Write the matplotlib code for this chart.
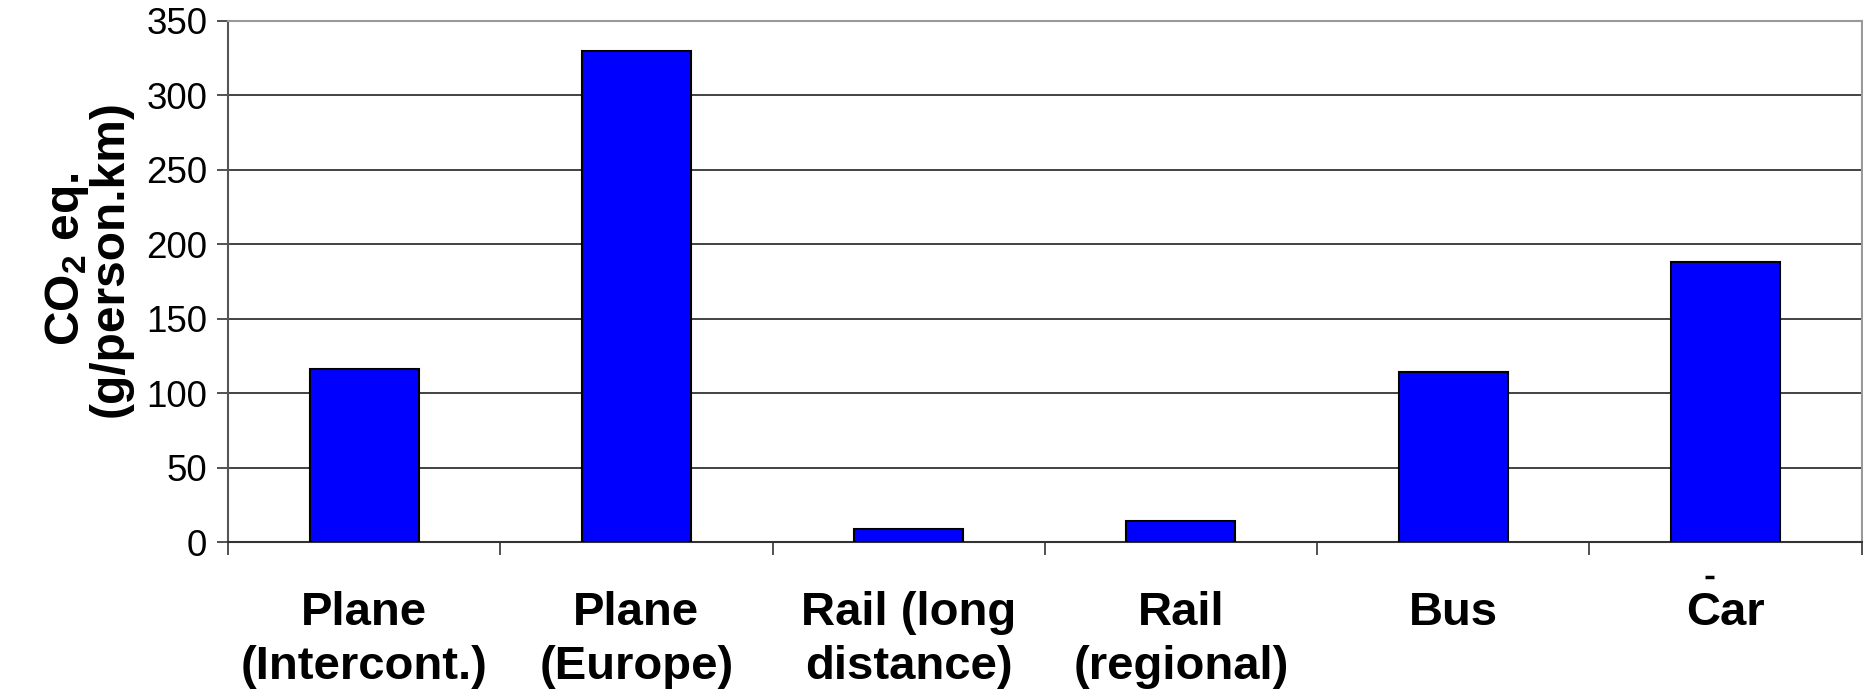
import numpy as np
import matplotlib
matplotlib.use('Agg')
import matplotlib.pyplot as plt

# ── Data ───────────────────────────────────────────────────────────────────────

modes = ['Plane\n(Intercont.)', 'Plane\n(Europe)', 'Rail (long\ndistance)',
         'Rail\n(regional)', 'Bus', 'Car']
co2 = [116, 330, 9, 14, 114, 188]
y_ticks = [0, 50, 100, 150, 200, 250, 300, 350]

# ── Style ──────────────────────────────────────────────────────────────────────

plt.rcParams.update({
    'font.family': ['Liberation Sans', 'DejaVu Sans'],
    'mathtext.fontset': 'custom',
    'mathtext.rm': 'Liberation Sans',
    'mathtext.bf': 'Liberation Sans:bold',
})

fig = plt.figure(figsize=(18.63, 6.99), dpi=100)
ax = fig.add_axes([228 / 1863, 1 - 542 / 699, 1 - 228 / 1863 - 0.0008, (542 - 21) / 699])

x = np.arange(len(modes))
ax.bar(x, co2, width=0.4, color='#0000FF', edgecolor='black', linewidth=1.5, zorder=3)

ax.set_xlim(-0.5, len(modes) - 0.5)
ax.set_ylim(0, 350)
ax.set_yticks(y_ticks)
ax.set_yticklabels([str(v) for v in y_ticks], fontsize=26.5)
ax.tick_params(axis='y', length=8, width=1.2, color='#333333', pad=7)

# category labels at centres, tick marks at category boundaries
ax.set_xticks(x)
ax.set_xticklabels(modes, fontsize=34, fontweight='bold', linespacing=1.3, va='top')
ax.tick_params(axis='x', which='major', length=0, pad=35)
ax.set_xticks(np.arange(len(modes) + 1) - 0.5, minor=True)
ax.tick_params(axis='x', which='minor', length=9, width=1.2, color='#333333')

ax.yaxis.grid(True, color='#222222', linewidth=1.2, zorder=0)
ax.set_axisbelow(True)

ax.spines['left'].set_color('#555555')
ax.spines['left'].set_linewidth(1.5)
ax.spines['bottom'].set_color('#333333')
ax.spines['bottom'].set_linewidth(1.5)
ax.spines['top'].set_color('#999999')
ax.spines['top'].set_linewidth(1.5)
ax.spines['right'].set_color('#999999')
ax.spines['right'].set_linewidth(1.5)

# stray dash above the "Car" label
ax.plot([4.925, 4.96], [-0.067, -0.067], transform=ax.get_xaxis_transform(),
        color='black', lw=2.5, solid_capstyle='butt', clip_on=False)

fig.text(88 / 1863, 1 - 259 / 699, 'CO$_\\mathbf{2}$ eq.\n(g/person.km)',
         rotation=90, ha='center', va='center', multialignment='center',
         fontsize=34.5, fontweight='bold', linespacing=0.9)

fig.savefig('out.png', dpi=100, facecolor='white')
